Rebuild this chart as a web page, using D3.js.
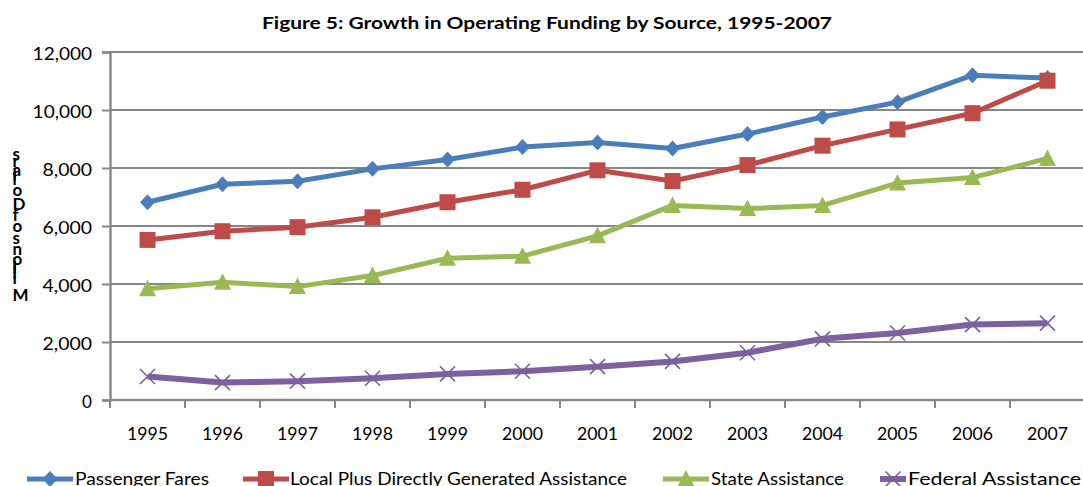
<!DOCTYPE html>
<html>
<head>
<meta charset="utf-8">
<script src="https://cdn.jsdelivr.net/npm/d3@7"></script>
<style>
  html, body { margin: 0; padding: 0; background: #ffffff; }
  svg { display: block; }
  text { font-family: Lato, "Open Sans", sans-serif; fill: #000; }
</style>
</head>
<body>
<svg id="chart" width="1083" height="486"></svg>
<script>
// Operating funding by source, millions of dollars
const years = ["1995", "1996", "1997", "1998", "1999", "2000", "2001", "2002", "2003", "2004", "2005", "2006", "2007"];
const passengerFares = [6820, 7440, 7540, 7970, 8290, 8720, 8880, 8670, 9170, 9760, 10270, 11200, 11100];
const localAssistance = [5520, 5820, 5960, 6300, 6820, 7250, 7920, 7550, 8100, 8770, 9330, 9890, 11010];
const stateAssistance = [3840, 4060, 3910, 4290, 4890, 4960, 5660, 6710, 6600, 6710, 7480, 7670, 8330];
const federalAssistance = [810, 600, 650, 750, 900, 990, 1150, 1330, 1630, 2110, 2310, 2600, 2650];
const seriesNames = ["Passenger Fares", "Local Plus Directly Generated Assistance", "State Assistance", "Federal Assistance"];
const yTicks = [0, 2000, 4000, 6000, 8000, 10000, 12000];
const titleText = "Figure 5: Growth in Operating Funding by Source, 1995-2007";
const yAxisTitle = "Millions of Dollars";

const series = [
  { name: seriesNames[0], values: passengerFares, color: "#4a7ebb", marker: "diamond", width: 5 },
  { name: seriesNames[1], values: localAssistance, color: "#be4b48", marker: "square", width: 5 },
  { name: seriesNames[2], values: stateAssistance, color: "#98b954", marker: "triangle", width: 5 },
  { name: seriesNames[3], values: federalAssistance, color: "#7d60a0", marker: "cross", width: 6 }
];

const svg = d3.select("#chart");
const plot = { left: 110, right: 1085, top: 52, bottom: 400 };
const grid = "#878787";

const x = d3.scaleBand().domain(years).range([plot.left, plot.right]).padding(0);
const y = d3.scaleLinear().domain([0, 12000]).range([plot.bottom, plot.top]);

// Title
svg.append("text")
  .attr("x", 547).attr("y", 29)
  .attr("text-anchor", "middle")
  .attr("font-size", 17.5).attr("font-weight", "bold")
  .attr("textLength", 570).attr("lengthAdjust", "spacingAndGlyphs")
  .text(titleText);

// Horizontal gridlines
svg.append("g").selectAll("line")
  .data(yTicks.filter(d => d > 0))
  .join("line")
  .attr("x1", plot.left).attr("x2", plot.right)
  .attr("y1", d => y(d)).attr("y2", d => y(d))
  .attr("stroke", grid).attr("stroke-width", 2);

// Y axis
const yAxis = svg.append("g")
  .attr("transform", `translate(${plot.left},0)`)
  .call(d3.axisLeft(y).tickValues(yTicks).tickSize(8).tickPadding(10).tickFormat(d3.format(",")));
yAxis.select(".domain").attr("stroke", grid).attr("stroke-width", 2.4);
yAxis.selectAll(".tick line").attr("stroke", grid).attr("stroke-width", 2);
yAxis.selectAll(".tick text")
  .attr("font-size", 17.5).attr("font-family", "Lato, sans-serif")
  .attr("dy", "0.45em").attr("x", -18)
  .each(function (d) {
    const s = d3.format(",")(d);
    d3.select(this).attr("textLength", s.length * 9.9).attr("lengthAdjust", "spacingAndGlyphs");
  });

// X axis with ticks at category boundaries
const xAxisG = svg.append("g").attr("transform", `translate(0,${plot.bottom})`);
xAxisG.append("line")
  .attr("x1", plot.left).attr("x2", plot.right)
  .attr("stroke", grid).attr("stroke-width", 2.4);
const boundaries = years.map(yr => x(yr)).concat([x(years[years.length - 1]) + x.bandwidth()]);
xAxisG.selectAll("line.tk")
  .data(boundaries)
  .join("line").attr("class", "tk")
  .attr("x1", d => d).attr("x2", d => d)
  .attr("y1", 0).attr("y2", 8)
  .attr("stroke", grid).attr("stroke-width", 2);
xAxisG.selectAll("text")
  .data(years)
  .join("text")
  .attr("x", d => x(d) + x.bandwidth() / 2)
  .attr("y", 40)
  .attr("text-anchor", "middle")
  .attr("font-size", 17.5)
  .attr("textLength", 41).attr("lengthAdjust", "spacingAndGlyphs")
  .text(d => d);

// Y axis title: upright glyphs stacked from bottom to top
(function () {
  const g = svg.append("g");
  const fs = 17;
  const probe = g.append("text").attr("font-size", fs).attr("font-weight", "bold");
  const chars = Array.from(yAxisTitle);
  const adv = chars.map(c => {
    probe.text(c === " " ? "\u00a0" : c);
    return probe.node().getComputedTextLength();
  });
  probe.remove();
  const total = d3.sum(adv.slice(0, -1));
  const k = 141 / total;
  let pos = 301;
  chars.forEach((c, i) => {
    if (c !== " ") {
      g.append("text")
        .attr("x", 12.5).attr("y", pos)
        .attr("font-size", fs).attr("font-weight", "bold")
        .text(c);
    }
    pos -= adv[i] * k;
  });
})();

// Marker shapes
function drawMarker(sel, type, color, cx, cy) {
  if (type === "diamond") {
    sel.append("path")
      .attr("d", `M${cx},${cy - 8}L${cx + 7.5},${cy}L${cx},${cy + 8}L${cx - 7.5},${cy}Z`)
      .attr("fill", color);
  } else if (type === "square") {
    sel.append("rect")
      .attr("x", cx - 8).attr("y", cy - 8).attr("width", 16).attr("height", 16)
      .attr("fill", color);
  } else if (type === "triangle") {
    sel.append("path")
      .attr("d", `M${cx},${cy - 9}L${cx + 8.5},${cy + 7.5}L${cx - 8.5},${cy + 7.5}Z`)
      .attr("fill", color);
  } else if (type === "cross") {
    sel.append("path")
      .attr("d", `M${cx - 7.5},${cy - 7.5}L${cx + 7.5},${cy + 7.5}M${cx + 7.5},${cy - 7.5}L${cx - 7.5},${cy + 7.5}`)
      .attr("stroke", color).attr("stroke-width", 1.6).attr("fill", "none");
  }
}

// Series lines and markers
const line = d3.line()
  .x((d, i) => x(years[i]) + x.bandwidth() / 2)
  .y(d => y(d));

series.forEach(s => {
  const g = svg.append("g");
  g.append("path")
    .datum(s.values)
    .attr("d", line)
    .attr("fill", "none")
    .attr("stroke", s.color)
    .attr("stroke-width", s.width)
    .attr("stroke-linejoin", "round");
  s.values.forEach((v, i) => {
    drawMarker(g, s.marker, s.color, x(years[i]) + x.bandwidth() / 2, y(v));
  });
});

// Legend
const legendItems = [
  { lx: 27, tx: 75, tw: 134 },
  { lx: 243, tx: 290, tw: 337 },
  { lx: 663, tx: 711, tw: 133 },
  { lx: 880, tx: 908, tw: 173, short: true }
];
series.forEach((s, i) => {
  const it = legendItems[i];
  const g = svg.append("g");
  const len = it.short ? 26 : 46;
  g.append("line")
    .attr("x1", it.lx).attr("x2", it.lx + len)
    .attr("y1", 479).attr("y2", 479)
    .attr("stroke", s.color).attr("stroke-width", s.width);
  drawMarker(g, s.marker, s.color, it.lx + len / 2, 479);
  g.append("text")
    .attr("x", it.tx).attr("y", 485)
    .attr("font-size", 17.5)
    .attr("textLength", it.tw).attr("lengthAdjust", "spacingAndGlyphs")
    .text(s.name);
});
</script>
</body>
</html>
